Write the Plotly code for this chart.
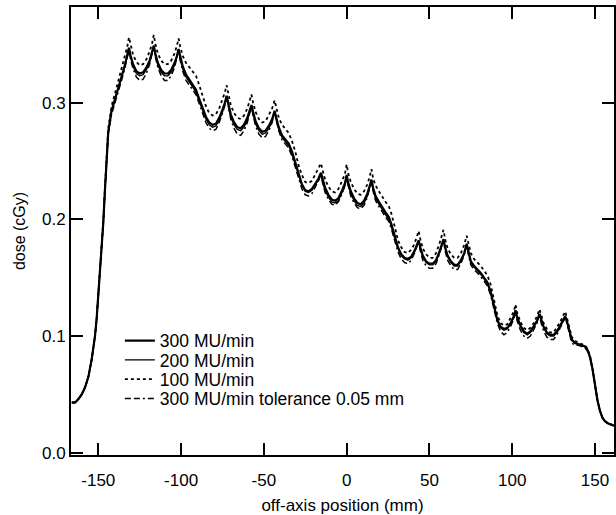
import plotly.graph_objects as go

x_mm = [
    -166, -164, -162, -160, -158, -156, -154, -152, -151, -150,
    -149, -148, -147, -146, -144, -142, -140, -138, -136, -134,
    -132.5, -131.5, -130.5, -129, -127, -125, -123, -121, -119, -117.5,
    -116.5, -115.5, -114, -112, -110, -108, -106, -104, -102.5, -101.5,
    -100.5, -99, -97, -95, -93, -91, -89, -87, -85, -83,
    -81, -79, -77, -75, -73.5, -72.5, -71.5, -70, -68, -66,
    -64, -62, -60, -58.5, -57.5, -56.5, -55, -53, -51, -49,
    -47, -45, -43.5, -42.5, -41, -39, -37, -35, -33, -31,
    -29, -27, -25, -23, -21, -19, -17, -15.5, -14.5, -13,
    -11, -9, -7, -5, -3, -1, 0, 1, 2.5, 4.5,
    6.5, 8.5, 10.5, 12.5, 14, 15, 16, 17.5, 19.5, 21.5,
    23.5, 25.5, 27, 29, 31, 33, 35, 37, 39, 41,
    42.5, 43.5, 44.5, 46, 48, 50, 52, 54, 56, 57.5,
    58.5, 59.5, 61, 63, 65, 67, 69, 71, 72.5, 73.5,
    75, 77, 79, 81, 83, 85, 87, 89, 91, 93,
    95, 97, 99, 101, 102, 103, 105, 107, 109, 111,
    113, 115, 116.5, 117.5, 119, 121, 123, 125, 127, 129,
    131, 132, 133, 134.5, 136, 138, 140, 142, 144, 145.5,
    147, 148.5, 150, 151.5, 153, 154.5, 156, 158, 160, 161.5,
]

dose_300 = [
    .043, .043, .046, .050, .056, .065, .080, .100, .115, .135,
    .155, .175, .197, .225, .275, .293, .302, .312, .322, .332,
    .340, .347, .340, .333, .327, .325, .326, .330, .336, .343,
    .349, .342, .334, .328, .325, .325, .328, .334, .340, .346,
    .339, .331, .324, .320, .316, .311, .303, .295, .288, .283,
    .281, .282, .287, .294, .300, .306, .300, .290, .283, .279,
    .278, .281, .287, .293, .298, .292, .284, .278, .275, .276,
    .280, .286, .293, .287, .279, .272, .268, .265, .258, .249,
    .238, .230, .225, .224, .226, .230, .235, .240, .234, .227,
    .221, .217, .216, .218, .224, .231, .238, .231, .224, .218,
    .214, .213, .216, .222, .229, .234, .227, .220, .215, .210,
    .206, .202, .196, .186, .176, .170, .167, .166, .168, .173,
    .178, .182, .176, .169, .164, .162, .162, .165, .172, .179,
    .183, .176, .169, .164, .161, .161, .165, .171, .179, .173,
    .164, .160, .157, .154, .150, .146, .138, .125, .114, .108,
    .106, .107, .111, .117, .122, .116, .109, .104, .102, .104,
    .108, .113, .119, .114, .108, .103, .101, .101, .104, .109,
    .115, .117, .113, .104, .097, .094, .093, .092, .091, .088,
    .082, .072, .058, .045, .036, .030, .027, .025, .024, .023,
]

dose_200 = [
    .043, .043, .046, .050, .056, .065, .080, .100, .115, .135,
    .155, .175, .197, .225, .275, .293, .302, .312, .322, .332,
    .339, .346, .339, .331, .325, .323, .324, .328, .335, .342,
    .348, .340, .332, .326, .323, .323, .326, .332, .339, .345,
    .337, .329, .322, .318, .314, .309, .301, .293, .286, .281,
    .279, .280, .285, .292, .299, .305, .298, .288, .281, .277,
    .276, .279, .285, .292, .297, .290, .282, .276, .273, .274,
    .278, .284, .292, .285, .277, .270, .266, .263, .256, .247,
    .237, .229, .224, .223, .225, .229, .234, .239, .232, .225,
    .219, .215, .214, .216, .222, .229, .237, .229, .222, .216,
    .212, .211, .214, .220, .228, .233, .225, .218, .213, .208,
    .204, .200, .194, .184, .175, .169, .166, .165, .167, .172,
    .177, .181, .175, .168, .163, .161, .161, .164, .171, .178,
    .182, .175, .168, .163, .160, .160, .164, .170, .178, .172,
    .163, .159, .156, .153, .149, .145, .137, .124, .113, .107,
    .105, .106, .110, .116, .121, .115, .108, .103, .101, .103,
    .107, .112, .118, .113, .107, .102, .100, .100, .103, .108,
    .114, .116, .112, .103, .096, .094, .093, .092, .091, .088,
    .082, .072, .058, .045, .036, .030, .027, .025, .024, .023,
]

dose_100 = [
    .043, .043, .046, .050, .056, .065, .080, .100, .115, .135,
    .155, .176, .198, .227, .278, .297, .307, .318, .329, .340,
    .348, .356, .349, .341, .335, .332, .333, .337, .344, .351,
    .358, .350, .342, .336, .333, .333, .336, .342, .349, .355,
    .348, .340, .334, .330, .327, .323, .315, .306, .297, .291,
    .289, .290, .295, .303, .309, .315, .309, .298, .291, .287,
    .286, .289, .295, .302, .307, .300, .292, .286, .283, .284,
    .289, .295, .302, .295, .287, .281, .277, .274, .267, .258,
    .246, .238, .232, .231, .233, .238, .243, .248, .242, .234,
    .228, .224, .223, .226, .232, .239, .247, .239, .232, .226,
    .222, .221, .224, .230, .237, .243, .235, .229, .224, .219,
    .215, .211, .205, .194, .182, .176, .172, .171, .174, .179,
    .185, .190, .183, .175, .170, .167, .167, .171, .179, .186,
    .191, .183, .175, .170, .167, .167, .171, .178, .186, .180,
    .171, .166, .163, .160, .156, .152, .144, .130, .118, .111,
    .109, .110, .115, .121, .127, .120, .112, .107, .105, .107,
    .111, .117, .123, .118, .111, .106, .103, .103, .107, .112,
    .118, .121, .116, .107, .099, .096, .094, .093, .092, .089,
    .083, .072, .058, .045, .036, .030, .027, .025, .024, .023,
]

dose_tol = [
    .043, .043, .046, .050, .056, .065, .080, .100, .115, .135,
    .155, .175, .197, .225, .273, .290, .299, .309, .319, .329,
    .338, .346, .337, .329, .322, .319, .320, .325, .333, .341,
    .348, .339, .330, .323, .319, .319, .323, .330, .338, .345,
    .336, .327, .319, .315, .312, .307, .299, .291, .283, .278,
    .276, .277, .283, .291, .298, .305, .297, .286, .278, .273,
    .272, .276, .283, .291, .297, .289, .280, .273, .270, .271,
    .276, .283, .292, .285, .276, .268, .264, .261, .254, .245,
    .234, .226, .221, .220, .222, .227, .233, .239, .231, .223,
    .217, .213, .212, .215, .221, .229, .237, .229, .220, .214,
    .210, .209, .212, .219, .227, .233, .224, .216, .211, .206,
    .202, .198, .192, .182, .172, .166, .163, .162, .165, .171,
    .177, .181, .173, .165, .160, .158, .158, .162, .170, .178,
    .182, .173, .165, .160, .157, .157, .162, .169, .178, .170,
    .161, .157, .154, .151, .147, .143, .135, .122, .111, .104,
    .101, .103, .108, .115, .121, .113, .105, .100, .098, .100,
    .105, .111, .118, .111, .104, .099, .097, .097, .101, .107,
    .113, .116, .111, .101, .094, .092, .092, .091, .090, .087,
    .081, .071, .057, .045, .036, .030, .027, .025, .024, .023,
]

series_names = ["300 MU/min", "200 MU/min", "100 MU/min", "300 MU/min tolerance 0.05 mm"]
x_ticks = [-150, -100, -50, 0, 50, 100, 150]
y_ticks = [0.0, 0.1, 0.2, 0.3]

assert len(x_mm) == len(dose_300) == len(dose_200) == len(dose_100) == len(dose_tol)

styles = [
    dict(color="black", width=2.2, dash="solid"),
    dict(color="black", width=1.4, dash="solid"),
    dict(color="black", width=1.8, dash="dot"),
    dict(color="black", width=1.5, dash="6px,3px,6px,3px,2px,3px"),
]
legend_ids = ["legend", "legend2", "legend3", "legend4"]
legend_rows_y = [0.255, 0.212, 0.169, 0.126]

fig = go.Figure()
for name, ys, st, lid in zip(series_names, [dose_300, dose_200, dose_100, dose_tol], styles, legend_ids):
    fig.add_trace(go.Scatter(x=x_mm, y=ys, mode="lines", name=name, line=st, legend=lid))

font_family = "Liberation Sans, Arial, Helvetica, sans-serif"
axis_common = dict(
    showline=True, linecolor="black", linewidth=2, mirror="ticks",
    ticks="inside", ticklen=12, tickwidth=1.5, tickcolor="black",
    showgrid=False, zeroline=False, automargin=False,
    tickfont=dict(family=font_family, size=17, color="black"),
)

legend_common = dict(
    x=0.09, xanchor="left", yanchor="middle",
    bgcolor="rgba(0,0,0,0)", borderwidth=0,
    font=dict(family=font_family, size=17.5, color="black"),
)

fig.update_layout(
    width=616, height=515,
    margin=dict(l=71, r=2, t=7, b=60, autoexpand=False),
    paper_bgcolor="white", plot_bgcolor="white",
    font=dict(family=font_family, color="black"),
    xaxis=dict(
        range=[-166.5, 161.5], tickvals=x_ticks, ticktext=[str(v) for v in x_ticks],
        ticklabelstandoff=9,
        title=dict(text="off-axis position (mm)", font=dict(size=17), standoff=12),
        **axis_common,
    ),
    yaxis=dict(
        range=[-0.002, 0.382], tickvals=y_ticks, ticktext=[f"{v:.1f}" for v in y_ticks],
        title=dict(text="dose (cGy)", font=dict(size=16), standoff=12),
        **axis_common,
    ),
    legend=dict(y=legend_rows_y[0], **legend_common),
    legend2=dict(y=legend_rows_y[1], **legend_common),
    legend3=dict(y=legend_rows_y[2], **legend_common),
    legend4=dict(y=legend_rows_y[3], **legend_common),
    showlegend=True,
)

fig.write_html("out.html")
